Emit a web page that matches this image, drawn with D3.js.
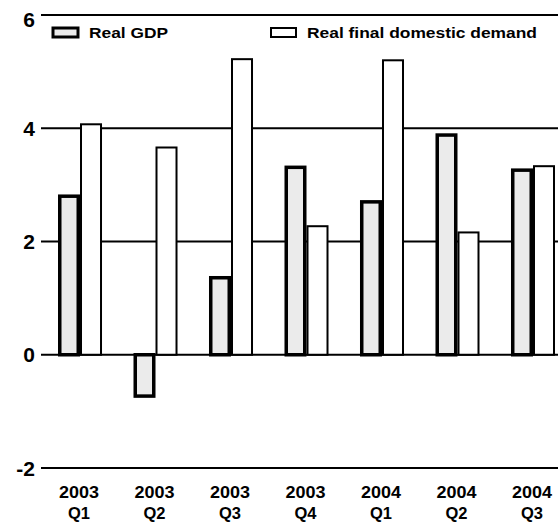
<!DOCTYPE html>
<html>
<head>
<meta charset="utf-8">
<script src="https://cdn.jsdelivr.net/npm/d3@7"></script>
<style>
  html, body { margin: 0; padding: 0; background: #fff; }
  svg { display: block; }
  text { font-family: "Liberation Sans", Arial, Helvetica, sans-serif; font-weight: bold; fill: #000; }
</style>
</head>
<body>
<div id="chart"></div>
<script>
const years = ["2003", "2003", "2003", "2003", "2004", "2004", "2004"];
const quarters = ["Q1", "Q2", "Q3", "Q4", "Q1", "Q2", "Q3"];
const realGDP = [2.8, -0.73, 1.36, 3.31, 2.7, 3.88, 3.26];
const realFDD = [4.07, 3.66, 5.22, 2.27, 5.2, 2.16, 3.33];
const seriesNames = ["Real GDP", "Real final domestic demand"];
const yTicks = [-2, 0, 2, 4, 6];

const W = 558, H = 523;
const svg = d3.select("#chart").append("svg").attr("width", W).attr("height", H);

const cats = years.map((y, i) => y + " " + quarters[i]);
const y = d3.scaleLinear().domain([-2, 6]).range([468, 15]);
const x = d3.scaleBand().domain(cats).range([58, 555]).paddingInner(0.417).paddingOuter(0);
const xs = d3.scaleBand().domain(seriesNames).range([0, x.bandwidth()]);

// gridlines
svg.append("g").selectAll("line").data(yTicks).join("line")
  .attr("x1", 41).attr("x2", W)
  .attr("y1", d => y(d)).attr("y2", d => y(d))
  .attr("stroke", "#000").attr("stroke-width", 2);

// y labels
svg.append("g").selectAll("text").data(yTicks).join("text")
  .attr("x", 35).attr("y", d => y(d) + (d === 6 ? 4 : 0))
  .attr("text-anchor", "end").attr("dominant-baseline", "central")
  .attr("font-size", 21).text(d => d);

const data = cats.map((c, i) => ({ c, vals: [realGDP[i], realFDD[i]] }));
const styles = [
  { fill: "#ebebeb", sw: 3.5 },
  { fill: "#ffffff", sw: 2 }
];

const groups = svg.append("g").selectAll("g").data(data).join("g")
  .attr("transform", d => `translate(${x(d.c)},0)`);
groups.selectAll("rect").data(d => d.vals.map((v, j) => ({ v, j }))).join("rect")
  .attr("x", d => xs(seriesNames[d.j]) + styles[d.j].sw / 2)
  .attr("width", d => xs.bandwidth() - styles[d.j].sw)
  .attr("y", d => Math.min(y(d.v), y(0)))
  .attr("height", d => Math.abs(y(d.v) - y(0)))
  .attr("fill", d => styles[d.j].fill)
  .attr("stroke", "#000")
  .attr("stroke-width", d => styles[d.j].sw);

// x labels
const xl = svg.append("g");
xl.selectAll("text.yr").data(cats).join("text").attr("class", "yr")
  .attr("x", d => x(d) + x.bandwidth() / 2 - 1).attr("y", 498)
  .attr("text-anchor", "middle").attr("font-size", 16)
  .attr("textLength", 40).attr("lengthAdjust", "spacingAndGlyphs")
  .text((d, i) => years[i]);
xl.selectAll("text.q").data(cats).join("text").attr("class", "q")
  .attr("x", d => x(d) + x.bandwidth() / 2 - 1).attr("y", 519)
  .attr("text-anchor", "middle").attr("font-size", 16)
  .attr("textLength", 22).attr("lengthAdjust", "spacingAndGlyphs")
  .text((d, i) => quarters[i]);

// legend
const legendPos = [{ bx: 53, tx: 89, tw: 79 }, { bx: 271, tx: 307, tw: 230 }];
const lg = svg.append("g");
seriesNames.forEach((name, j) => {
  const p = legendPos[j];
  lg.append("rect").attr("x", p.bx).attr("y", 28).attr("width", 25).attr("height", 9)
    .attr("fill", styles[j].fill).attr("stroke", "#000").attr("stroke-width", j === 0 ? 3 : 2);
  lg.append("text").attr("x", p.tx).attr("y", 38).attr("font-size", 14)
    .attr("textLength", p.tw).attr("lengthAdjust", "spacingAndGlyphs").text(name);
});
</script>
</body>
</html>
